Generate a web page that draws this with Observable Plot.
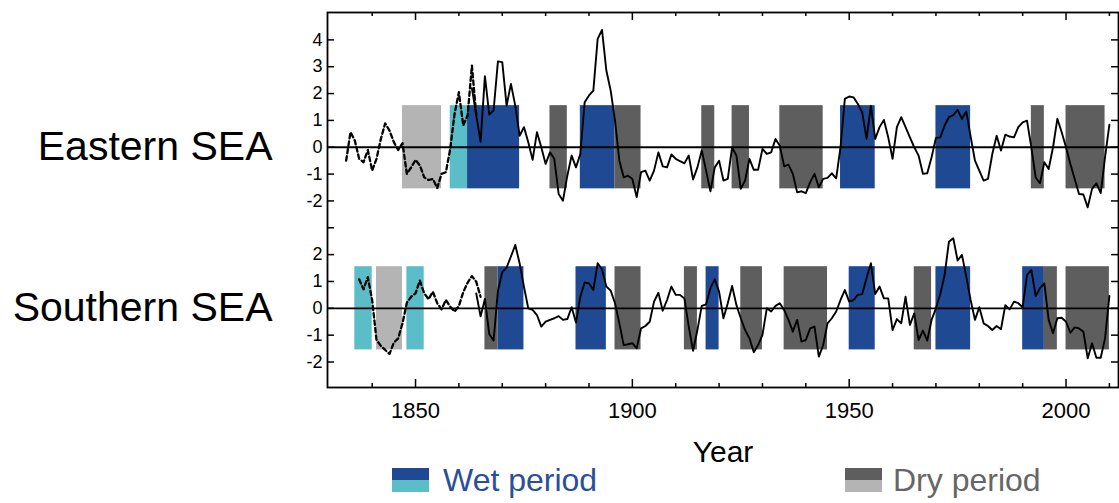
<!DOCTYPE html>
<html><head><meta charset="utf-8">
<script src="https://cdn.jsdelivr.net/npm/d3@7"></script>
<script src="https://cdn.jsdelivr.net/npm/@observablehq/plot@0.6"></script>
<style>
body{margin:0;background:#fff;font-family:"Liberation Sans",Arial,Helvetica,sans-serif;}
#wrap{position:relative;width:1119px;height:503px;overflow:hidden;}
#chart svg{display:block;}
#legend{position:relative;height:35px;}
.sw{position:absolute;width:37px;height:24px;top:0px;}
.lab{position:absolute;top:0px;font-size:32px;line-height:24px;white-space:nowrap;}
</style></head><body>
<div id="wrap"><div id="chart"></div><div id="legend"></div></div>
<script>
// ---------- data ----------
const panelLabels = ["Eastern SEA", "Southern SEA"];
const panelOffsets = [0, -6];            // Southern panel drawn 6 units below Eastern
const xTickLabels = [1850, 1900, 1950, 2000];
const minorTickYears = [1840,1860,1870,1880,1890,1910,1920,1930,1940,1960,1970,1980,1990,2010];
const yTickValues = [-8,-7,-6,-5,-4,-3,-2,-1,0,1,2,3,4];
const xLabel = "Year";
const legendLabels = ["Wet period", "Dry period"];

// Eastern SEA (dashed: early reconstruction)
const eastDashStart = 1834;
const eastDashValues = [-0.5,0.56,0.25,-0.43,-0.56,-0.1,-0.87,-0.43,0.31,0.89,
  0.62,0.19,-0.1,0.15,-0.99,-0.75,-0.47,-0.68,-1.12,-1.22,
  -1.18,-1.52,-0.99,-0.93,-0.06,1.24,2.05,0.81,1.18,3.04,1.2];
const eastSolidStart = 1863;
const eastSolidValues = [2.2,1.2,0.2,2.65,1.22,1.37,3.2,
  3.17,1.55,2.36,1.55,0.43,0.75,0.19,-0.47,0.56,0,
  -0.62,-0.19,-0.43,-1.74,-1.99,-1.06,-0.31,-0.75,-0.25,1.68,
  1.93,2.11,4.04,4.37,2.86,2.11,0.99,-0.5,-1.12,-1.06,
  -1.18,-1.86,-0.93,-0.87,-1.24,-0.87,-0.19,-0.71,-0.75,-0.27,
  -0.43,-0.52,-0.6,-0.31,-1.2,-0.75,-0.12,-0.87,-1.64,-0.75,
  -0.5,-1.24,-1.18,0,-0.31,-1.55,-1.24,-0.43,-0.84,-0.84,
  -0.06,-0.25,-0.19,0.31,0.06,-0.71,-0.65,-0.99,-1.68,-1.64,
  -1.71,-1.3,-0.99,-1.49,-1.18,-1.14,-0.97,-1.16,0,1.8,
  1.89,1.86,1.61,1.3,0.31,1.54,0.31,0.75,1.02,0.37,
  -0.43,0.75,1.12,0.75,0.37,0,-0.31,-0.99,-0.97,-0.37,
  0.35,0.37,0.81,1.12,1.2,1.39,1.06,1.33,0.4,-0.5,
  -0.87,-1.24,-1.18,-0.25,0.43,-0.12,0.47,0.4,0.37,0.75,
  0.93,0.99,0,-1.12,-1.34,-0.56,-0.81,0,1.06,0.56,
  0,-0.62,-1.18,-1.74,-1.76,-2.24,-1.55,-1.34,-1.71,-0.37,
  0.84];

// Southern SEA
const southDashStart = 1837;
const southDashValues = [1.08,0.71,1.16,0.3,-1.18,-1.4,-1.55,-1.7,-1.28,-1.12,
  -0.56,0.21,0.43,0.56,1.03,0.56,0.34,0.62,0.19,-0.04,
  0.31,0.06,-0.12,0.09,0.6,0.95,1.2,0.99,0.43];
const southSolidStart = 1864;
const southSolidValues = [0.55,-0.3,0.35,-0.96,-1.2,0.65,
  1.35,1.52,1.93,2.36,1.68,0.81,0,-0.06,-0.25,-0.68,
  -0.5,-0.43,-0.37,-0.29,-0.43,-0.4,0.04,-0.53,0.43,0.96,
  0.93,0.68,1.68,1.45,0.81,0.66,0.19,-0.56,-1.37,-1.34,
  -1.3,-1.49,-0.75,-0.66,-0.5,0.25,0.58,-0.09,0.31,0.81,
  0.5,0.5,0.37,-0.68,-1.58,-0.81,0.09,0.15,0.75,1.08,
  0.62,-0.37,0.19,0.83,0.12,-0.37,-0.81,-1.12,-1.64,-1.37,
  -0.99,0,-0.12,0.09,0.19,-0.06,-0.43,-0.87,-0.43,-1.24,
  -1.18,-0.75,-0.68,-1.8,-1.37,-0.56,-0.37,-0.12,0.31,0.68,
  0.25,0.31,0.5,0.53,1.12,1.68,0.53,0.81,0.37,0.37,
  -0.81,-0.4,-0.56,0.43,-0.62,-0.19,-1.18,-0.83,-1.2,-0.43,
  0,0.53,1.24,2.48,2.61,1.78,1.99,1.18,0.31,-0.43,
  0.04,-0.56,-0.66,-0.81,-0.66,-0.78,0.12,-0.04,0.25,0.19,
  0.04,1.24,1.43,0.46,0.75,0.93,-0.43,-0.93,-0.37,-0.35,
  -0.5,-0.91,-0.71,-0.75,-0.87,-1.86,-1.3,-1.84,-1.84,-1.12,
  0.46];

// wet / dry periods [start, end]
const eastWet = [[1862,1874],[1888,1896],[1948,1956],[1970,1978]];
const eastWetEarly = [[1858,1862]];
const eastDry = [[1881,1885],[1896,1902],[1916,1919],[1923,1927],[1934,1944],[1992,1995],[2000,2009]];
const eastDryEarly = [[1847,1856]];
const southWet = [[1869,1875],[1887,1894],[1917,1920],[1950,1956],[1970,1978],[1990,1995]];
const southWetEarly = [[1836,1840],[1848,1852]];
const southDry = [[1866,1869],[1896,1902],[1912,1915],[1925,1930],[1935,1945],[1965,1969],[1995,1998],[2000,2010]];
const southDryEarly = [[1841,1847]];
const bandHalf = 1.55;

// ---------- styles ----------
const C = {wet:"#1f4a93", wetEarly:"#5bbdc8", dry:"#5e5e5e", dryEarly:"#b4b4b4"};
const W = 1119, H = 468, mL = 327, mR = 1, mT = 12, mB = 81;
const fW = W - mL - mR, fH = H - mT - mB;

const series = (start, vals, off) => vals.map((v, i) => ({year: start + i, y: v + off}));
const bars = (arr, off, fill) => Plot.rect(arr, {x1: d => d[0], x2: d => d[1], y1: () => off - bandHalf, y2: () => off + bandHalf, fill});

const [oE, oS] = panelOffsets;
const font = "Liberation Sans, Arial, Helvetica, sans-serif";

const chart = Plot.plot({
  width: W, height: H,
  marginLeft: mL, marginRight: mR, marginTop: mT, marginBottom: mB,
  style: {fontFamily: font, background: "white", color: "black"},
  x: {domain: [1829.7, 2012.1]},
  y: {domain: [-8.95, 5.02]},
  marks: [
    bars(eastDryEarly, oE, C.dryEarly), bars(eastWetEarly, oE, C.wetEarly),
    bars(eastWet, oE, C.wet), bars(eastDry, oE, C.dry),
    bars(southDryEarly, oS, C.dryEarly), bars(southWetEarly, oS, C.wetEarly),
    bars(southWet, oS, C.wet), bars(southDry, oS, C.dry),
    Plot.ruleY(panelOffsets, {stroke: "black", strokeWidth: 1.8}),
    Plot.line(series(eastDashStart, eastDashValues, oE), {x: "year", y: "y", stroke: "black", strokeWidth: 2.3, strokeDasharray: "4.5,3"}),
    Plot.line(series(eastSolidStart, eastSolidValues, oE), {x: "year", y: "y", stroke: "black", strokeWidth: 1.9}),
    Plot.line(series(southDashStart, southDashValues, oS), {x: "year", y: "y", stroke: "black", strokeWidth: 2.3, strokeDasharray: "4.5,3"}),
    Plot.line(series(southSolidStart, southSolidValues, oS), {x: "year", y: "y", stroke: "black", strokeWidth: 1.9}),
    // inward ticks
    Plot.tickX(minorTickYears, {x: d => d, insetBottom: fH - 4, stroke: "black", strokeWidth: 1.5}),
    Plot.tickX(xTickLabels, {x: d => d, insetBottom: fH - 8, stroke: "black", strokeWidth: 1.5}),
    Plot.tickX(minorTickYears, {x: d => d, insetTop: fH - 4, stroke: "black", strokeWidth: 1.5}),
    Plot.tickX(xTickLabels, {x: d => d, insetTop: fH - 8, stroke: "black", strokeWidth: 1.5}),
    Plot.tickY(yTickValues, {y: d => d, insetRight: fW - 7, stroke: "black", strokeWidth: 1.5}),
    Plot.tickY(yTickValues, {y: d => d, insetLeft: fW - 7, stroke: "black", strokeWidth: 1.5}),
    Plot.frame({stroke: "black", strokeWidth: 1.8}),
    Plot.axisX(xTickLabels, {anchor: "bottom", tickSize: 0, tickPadding: 15, fontSize: 22, label: null, tickFormat: d => String(d)}),
    Plot.axisY(yTickValues, {anchor: "left", tickSize: 0, tickPadding: 5, fontSize: 18, label: null,
      tickFormat: t => t >= -2 ? String(t - oE) : (t <= -4 ? String(t - oS) : "")}),
    Plot.text([xLabel], {frameAnchor: "bottom", dy: 65, fontSize: 30, lineAnchor: "middle", fill: "black"}),
    Plot.text(panelLabels, {y: (d, i) => panelOffsets[i], frameAnchor: "left", dx: -55, textAnchor: "end", fontSize: 41, lineAnchor: "middle", fill: "black"})
  ]
});
document.getElementById("chart").appendChild(chart);

// legend
const lg = document.getElementById("legend");
const items = [
  {label: legendLabels[0], top: C.wet, bottom: C.wetEarly, color: "#2a4f98", sx: 392, tx: 443},
  {label: legendLabels[1], top: C.dry, bottom: C.dryEarly, color: "#666666", sx: 845, tx: 893}
];
for (const it of items) {
  const sw = document.createElement("div");
  sw.className = "sw";
  sw.style.left = it.sx + "px";
  sw.style.background = `linear-gradient(${it.top} 0 50%, ${it.bottom} 50% 100%)`;
  lg.appendChild(sw);
  const t = document.createElement("div");
  t.className = "lab";
  t.style.left = it.tx + "px";
  t.style.color = it.color;
  t.textContent = it.label;
  lg.appendChild(t);
}
</script>
</body></html>
